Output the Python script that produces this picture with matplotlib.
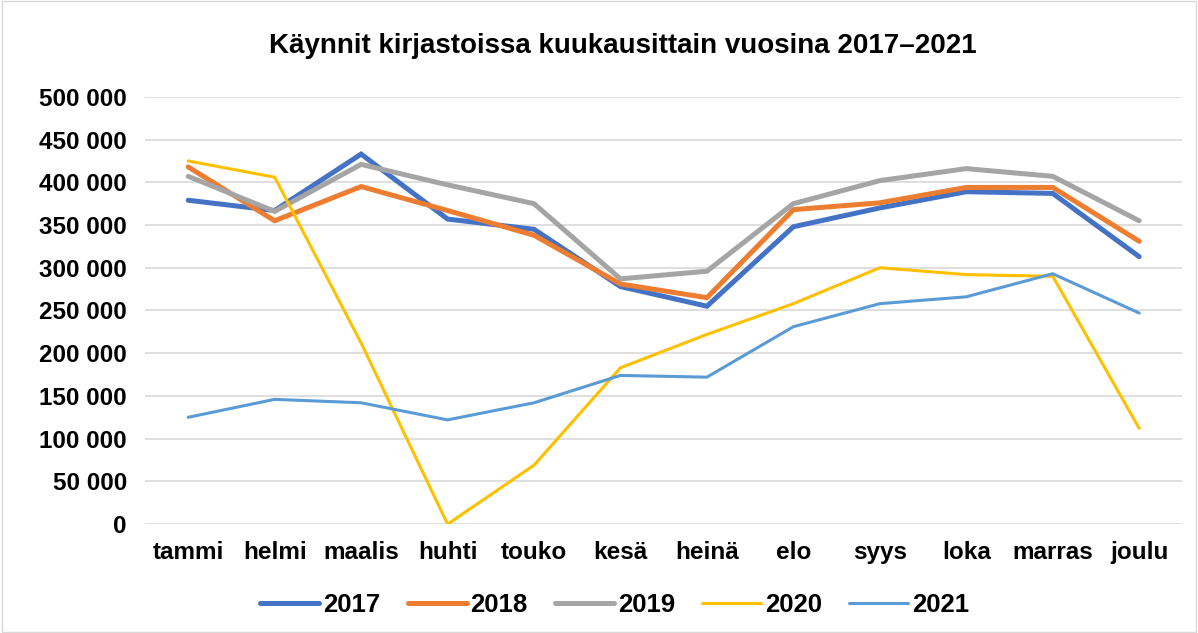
import matplotlib.pyplot as plt
from matplotlib.patches import Rectangle

plt.rcParams['font.family'] = ['Liberation Sans', 'DejaVu Sans']

months = ['tammi', 'helmi', 'maalis', 'huhti', 'touko', 'kesä',
          'heinä', 'elo', 'syys', 'loka', 'marras', 'joulu']

v2017 = [379000, 367000, 433000, 357000, 345000, 278000,
         255000, 348000, 370000, 389000, 387000, 313000]
v2018 = [418000, 355000, 395000, 367000, 338000, 281000,
         265000, 368000, 376000, 394000, 394000, 331000]
v2019 = [407000, 366000, 421000, 397000, 375000, 287000,
         296000, 375000, 402000, 416000, 407000, 355000]
v2020 = [425000, 406000, 212000, 0, 69000, 183000,
         222000, 258000, 300000, 292000, 290000, 112000]
v2021 = [125000, 146000, 142000, 122000, 142000, 174000,
         172000, 231000, 258000, 266000, 293000, 247000]

series = [('2017', v2017, '#4472C4', 3.6),
          ('2018', v2018, '#ED7D31', 3.6),
          ('2019', v2019, '#A5A5A5', 3.6),
          ('2020', v2020, '#FFC000', 2.2),
          ('2021', v2021, '#5B9BD5', 2.2)]

fig = plt.figure(figsize=(11.98, 6.33), dpi=100)
ax = fig.add_axes([0.121, 0.172, 0.866, 0.675])

x = range(len(months))
for name, vals, col, lw in series:
    ax.plot(x, vals, color=col, lw=lw, label=name, solid_capstyle='round',
            solid_joinstyle='miter')

ax.set_xlim(-0.5, len(months) - 0.5)
ax.set_ylim(0, 500000)
ax.set_yticks(range(0, 500001, 50000))
ax.set_yticklabels([f'{v:,}'.replace(',', ' ') for v in range(0, 500001, 50000)])
ax.set_xticks(list(x))
ax.set_xticklabels(months)
ax.tick_params(length=0, labelsize=17.5)
ax.tick_params(axis='x', pad=12)
ax.tick_params(axis='y', pad=13)
for lab in ax.get_xticklabels() + ax.get_yticklabels():
    lab.set_fontweight('bold')
ax.yaxis.grid(True, color='#D9D9D9', lw=1.2)
ax.set_axisbelow(True)
for s in ax.spines.values():
    s.set_visible(False)

fig.suptitle('Käynnit kirjastoissa kuukausittain vuosina 2017–2021',
             x=0.52, y=0.948, fontsize=20, fontweight='bold')

leg = fig.legend(loc='center', bbox_to_anchor=(0.513, 0.044), ncol=5,
                 frameon=False, handlelength=2.3, handletextpad=0.15,
                 columnspacing=1.05, prop={'size': 18.5, 'weight': 'bold'})

fig.patches.append(Rectangle((0.002, 0.002), 0.996, 0.996, transform=fig.transFigure,
                             fill=False, edgecolor='#D9D9D9', lw=1))

fig.savefig('out.png', dpi=100)
